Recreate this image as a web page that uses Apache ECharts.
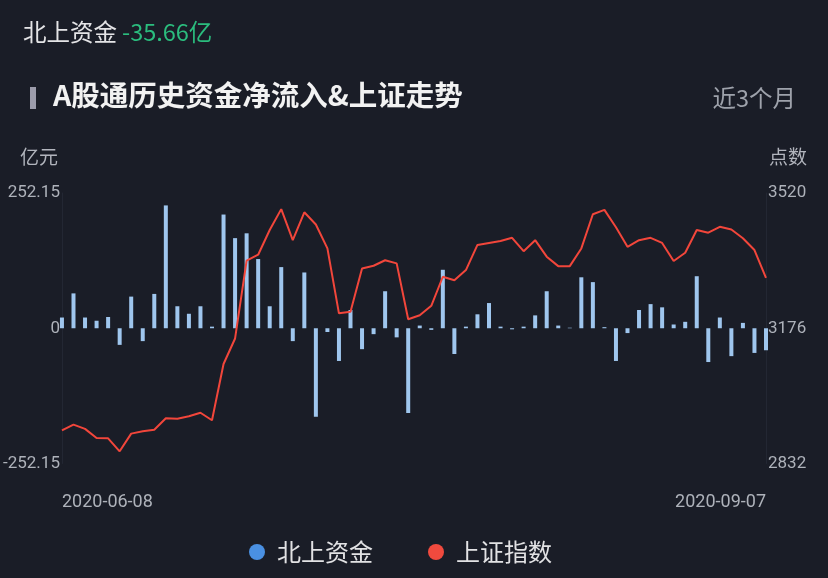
<!DOCTYPE html>
<html>
<head>
<meta charset="utf-8">
<script src="https://cdn.jsdelivr.net/npm/echarts@6/dist/echarts.min.js"></script>
<style>
html,body{margin:0;padding:0;background:#1a1d27;}
#c{width:828px;height:578px;}
</style>
</head>
<body>
<div id="c"></div>
<script>
var dates = [
'2020-06-08','2020-06-09','2020-06-10','2020-06-11','2020-06-12','2020-06-15','2020-06-16','2020-06-17','2020-06-18','2020-06-19',
'2020-06-22','2020-06-23','2020-06-24','2020-06-29','2020-06-30',
'2020-07-02','2020-07-03','2020-07-06','2020-07-07','2020-07-08','2020-07-09','2020-07-10','2020-07-13','2020-07-14','2020-07-15',
'2020-07-16','2020-07-17','2020-07-20','2020-07-21','2020-07-22','2020-07-23','2020-07-24','2020-07-27','2020-07-28','2020-07-29',
'2020-07-30','2020-07-31',
'2020-08-03','2020-08-04','2020-08-05','2020-08-06','2020-08-07','2020-08-10','2020-08-11','2020-08-12','2020-08-13','2020-08-14',
'2020-08-17','2020-08-18','2020-08-20','2020-08-21','2020-08-24','2020-08-25','2020-08-26','2020-08-27','2020-08-28','2020-08-31',
'2020-09-01','2020-09-02','2020-09-03','2020-09-04','2020-09-07'
];
var northFlow = [20, 65, 20, 14, 21, -31, 59, -24, 64, 229, 41, 27, 41, 3, 212, 168, 177, 129, 41, 114,
  -24, 104, -165, -7, -61, 34, -39, -11, 69, -17, -158, 5, -3, 109, -48, 3, 26, 47, 3, -2,
  3, 24, 69, 5, 1, 95, 86, 2, -61, -9, 34, 45, 39, 7, 12, 97, -63, 20, -52, 10, -46, -41];
var shIndex = [2916, 2931, 2920, 2897, 2896, 2863, 2908, 2914, 2918, 2947, 2946, 2952, 2961, 2942, 3085, 3150, 3348, 3363, 3426, 3479,
  3400, 3471, 3440, 3379, 3214, 3218, 3328, 3335, 3349, 3341, 3199, 3209, 3233, 3307, 3298, 3324, 3388, 3393, 3398, 3406,
  3372, 3400, 3358, 3334, 3334, 3379, 3466, 3477, 3433, 3383, 3400, 3406, 3393, 3347, 3368, 3426, 3419, 3434, 3427, 3405, 3375, 3304];
var leftTicks = [-252.15, 0, 252.15];
var rightTicks = [2832, 3176, 3520];
var headerLabel = '北上资金';
var headerValue = '-35.66亿';

var chart = echarts.init(document.getElementById('c'));
var cjk = '"Noto Sans CJK SC", "Noto Sans", sans-serif';
var num = 'Roboto, "Noto Sans CJK SC", sans-serif';
var last = dates.length - 1;
chart.setOption({
  backgroundColor: '#1a1d27',
  animation: false,
  textStyle: { fontFamily: cjk },
  graphic: [
    { type: 'text', left: 23, top: 20, style: { rich: {
        a: { fill: '#e4e4e6', fontSize: 23.5, fontFamily: cjk },
        b: { fill: '#2bbd7e', fontSize: 23.5, fontFamily: cjk, padding: [0, 0, 0, 5] }
      }, text: '{a|' + headerLabel + '}{b|' + headerValue + '}' } },
    { type: 'rect', shape: { x: 30, y: 87, width: 6, height: 22 }, style: { fill: '#9c9cab' } },
    { type: 'text', left: 53, top: 81, style: { text: 'A股通历史资金净流入&上证走势', fill: '#f2f2f2', fontSize: 28.5, fontWeight: 'bold', fontFamily: cjk } },
    { type: 'text', right: 32, top: 86, style: { text: '近3个月', fill: '#9ea2ab', fontSize: 23.5, fontFamily: cjk } },
    { type: 'text', left: 20, top: 147, style: { text: '亿元', fill: '#b2b5bd', fontSize: 19, fontFamily: cjk } },
    { type: 'text', right: 21, top: 147, style: { text: '点数', fill: '#b2b5bd', fontSize: 19, fontFamily: cjk } }
  ],
  legend: {
    left: 249, top: 540, padding: 0,
    icon: 'circle', itemWidth: 16, itemHeight: 16, itemGap: 55,
    textStyle: { color: '#e2e2e4', fontSize: 24, fontFamily: cjk, padding: [0, 0, 0, 7] },
    data: [
      { name: '北上资金', itemStyle: { color: '#4a90e2' } },
      { name: '上证指数', itemStyle: { color: '#f04a3e' } }
    ]
  },
  grid: { left: 61, right: 62, top: 193, bottom: 114.5 },
  xAxis: {
    type: 'category', data: dates, boundaryGap: false,
    axisLine: { show: false }, axisTick: { show: false }, splitLine: { show: false },
    axisLabel: {
      color: '#aeb2ba', fontSize: 18, fontFamily: num, margin: 30,
      interval: function (i) { return i === 0 || i === last; },
      alignMinLabel: 'left', alignMaxLabel: 'right', showMinLabel: true, showMaxLabel: true
    }
  },
  yAxis: [
    { type: 'value', min: leftTicks[0], max: leftTicks[2], interval: leftTicks[2],
      axisLine: { show: true, lineStyle: { color: '#232733' } }, axisTick: { show: false }, splitLine: { show: false },
      axisLabel: { color: '#aeb2ba', fontSize: 17, fontFamily: num, margin: 2,
        formatter: function (v) { return v === 0 ? '0' : v.toFixed(2); } } },
    { type: 'value', min: rightTicks[0], max: rightTicks[2],
      axisLine: { show: true, lineStyle: { color: '#232733' } }, axisTick: { show: false }, splitLine: { show: false },
      axisLabel: { color: '#aeb2ba', fontSize: 17, fontFamily: num, margin: 2, customValues: rightTicks,
        formatter: function (v) { return String(v); } } }
  ],
  series: [
    { name: '北上资金', type: 'bar', data: northFlow, yAxisIndex: 0, barWidth: 4,
      itemStyle: { color: '#9fc6ee' } },
    { name: '上证指数', type: 'line', data: shIndex, yAxisIndex: 1, symbol: 'none',
      lineStyle: { color: '#f2463b', width: 2 }, itemStyle: { color: '#f2463b' } }
  ]
});
</script>
</body>
</html>
